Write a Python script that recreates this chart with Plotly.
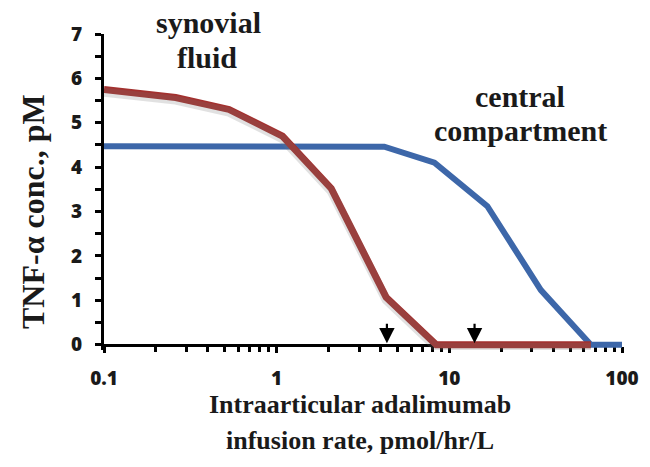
import math
import plotly.graph_objects as go

# Infusion rate (pmol/hr/L) and TNF-alpha concentration (pM)
synovial_rate = [0.1, 0.26, 0.53, 1.08, 2.07, 4.3, 8.4, 16.6, 33.5, 66]
synovial_conc = [5.75, 5.57, 5.30, 4.70, 3.52, 1.07, 0.0, 0.0, 0.0, 0.0]

central_rate = [0.1, 1.05, 2.07, 4.2, 8.2, 16.6, 33.9, 66, 100]
central_conc = [4.47, 4.47, 4.46, 4.46, 4.10, 3.12, 1.23, 0.0, 0.0]

arrow_rates = [4.35, 14.0]

x_tick_vals = [0.1, 1, 10, 100]
x_tick_text = ["0.1", "1", "10", "100"]
y_tick_vals = [0, 1, 2, 3, 4, 5, 6, 7]

RED = "#A3312F"
BLUE = "#3D67A9"
Y_MIN = -0.12
Y_MAX = 7.0

W, H = 650, 467
ML, MR, MT, MB = 104, 28, 34, 117


def px_to_paper(px, py):
    """Convert figure pixel position to plot-area paper coordinates."""
    return ((px - ML) / (W - ML - MR), (H - MB - py) / (H - MT - MB))


fig = go.Figure()

fig.add_trace(go.Scatter(
    x=central_rate, y=central_conc, mode="lines",
    line=dict(color=BLUE, width=6), showlegend=False, hoverinfo="skip",
))
# soft drop shadow under the synovial curve
fig.add_trace(go.Scatter(
    x=synovial_rate, y=synovial_conc, mode="lines", yaxis="y2",
    line=dict(color="rgba(120,120,120,0.22)", width=9), showlegend=False,
    hoverinfo="skip",
))
fig.add_trace(go.Scatter(
    x=synovial_rate, y=synovial_conc, mode="lines",
    line=dict(color=RED, width=7), showlegend=False, hoverinfo="skip",
))

tick_font = dict(family="'Open Sans', Lato, sans-serif", size=19,
                 color="#1a1a1a", weight=800)
serif = "'Liberation Serif', 'Times New Roman', serif"

fig.update_layout(
    width=W, height=H,
    margin=dict(l=ML, r=MR, t=MT, b=MB),
    paper_bgcolor="white", plot_bgcolor="white",
    xaxis=dict(
        type="log", range=[-1, 2],
        anchor="free", position=(0 - Y_MIN) / (Y_MAX - Y_MIN),
        showline=True, linecolor="black", linewidth=3,
        ticks="outside", ticklen=6, tickwidth=3, tickcolor="black",
        tickvals=x_tick_vals, ticktext=x_tick_text,
        tickfont=tick_font, ticklabelstandoff=10,
        minor=dict(ticks="outside", ticklen=5, tickwidth=3, tickcolor="black",
                   tickvals=[m * d for d in (0.1, 1, 10) for m in range(2, 10)]),
        showgrid=False, zeroline=False, layer="below traces",
    ),
    yaxis=dict(
        range=[Y_MIN, Y_MAX],
        showline=True, linecolor="black", linewidth=3,
        ticks="outside", ticklen=6, tickwidth=3, tickcolor="black",
        tickvals=y_tick_vals, tickfont=tick_font, ticklabelstandoff=9,
        minor=dict(ticks="outside", ticklen=6, tickwidth=3, tickcolor="black",
                   dtick=0.5),
        showgrid=False, zeroline=False, layer="below traces",
    ),
    yaxis2=dict(
        range=[Y_MIN + 0.06, Y_MAX + 0.06], overlaying="y",
        visible=False, showgrid=False, zeroline=False,
    ),
)

# arrows marking the two infusion rates (log axis: position in log10 units)
for r in arrow_rates:
    fig.add_annotation(
        x=math.log10(r), y=0.03, xref="x", yref="y",
        ax=0, ay=-21, text="", showarrow=True,
        arrowhead=2, arrowsize=1.4, arrowwidth=2.2, arrowcolor="black",
        standoff=0,
    )

labels = [
    ("synovial", 208, 22), ("fluid", 207, 57),
    ("central", 520, 97), ("compartment", 520, 130),
]
for txt, px, py in labels:
    xp, yp = px_to_paper(px, py)
    fig.add_annotation(
        x=xp, y=yp, xref="paper", yref="paper",
        text=f"<b>{txt}</b>", showarrow=False,
        font=dict(family=serif, size=30, color="#1a1a1a"),
        xanchor="center", yanchor="middle",
    )

# axis titles
for txt, px, py in [("Intraarticular adalimumab", 360, 404),
                    ("infusion rate, pmol/hr/L", 360, 440)]:
    xp, yp = px_to_paper(px, py)
    fig.add_annotation(
        x=xp, y=yp, xref="paper", yref="paper",
        text=f"<b>{txt}</b>", showarrow=False,
        font=dict(family=serif, size=26, color="#1a1a1a"),
        xanchor="center", yanchor="middle",
    )

xp, yp = px_to_paper(33, 212)
fig.add_annotation(
    x=xp, y=yp, xref="paper", yref="paper",
    text="<b>TNF-α conc., pM</b>", showarrow=False, textangle=-90,
    font=dict(family=serif, size=32, color="#1a1a1a"),
    xanchor="center", yanchor="middle",
)

fig.write_html("out.html")
